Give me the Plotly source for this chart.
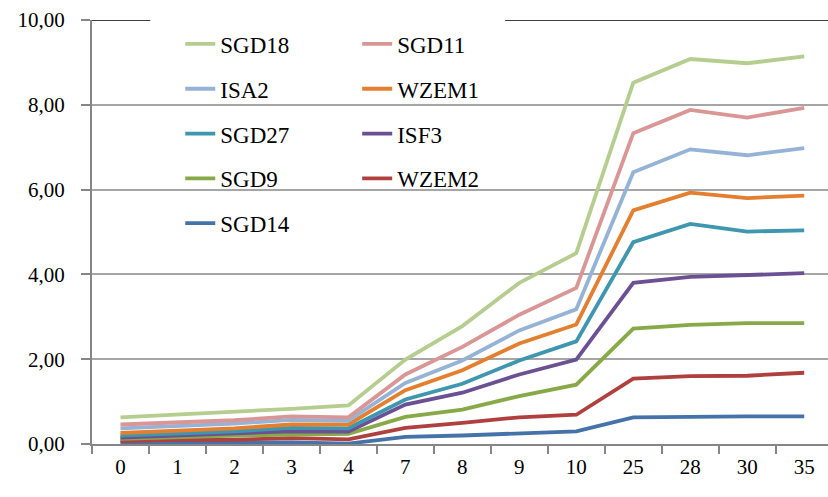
import plotly.graph_objects as go

# Sampling times (categorical x axis)
categories = ["0", "1", "2", "3", "4", "7", "8", "9", "10", "25", "28", "30", "35"]

sgd18 = [0.63, 0.69, 0.75, 0.83, 0.91, 1.99, 2.78, 3.80, 4.50, 8.52, 9.08, 8.98, 9.14]
sgd11 = [0.46, 0.50, 0.56, 0.65, 0.63, 1.64, 2.29, 3.05, 3.68, 7.33, 7.88, 7.70, 7.93]
isa2 = [0.37, 0.42, 0.48, 0.57, 0.55, 1.44, 1.97, 2.68, 3.18, 6.41, 6.95, 6.81, 6.98]
wzem1 = [0.26, 0.31, 0.37, 0.46, 0.46, 1.27, 1.74, 2.37, 2.82, 5.51, 5.93, 5.80, 5.86]
sgd27 = [0.20, 0.25, 0.30, 0.38, 0.37, 1.05, 1.42, 1.97, 2.42, 4.76, 5.19, 5.01, 5.04]
isf3 = [0.15, 0.20, 0.24, 0.30, 0.29, 0.93, 1.21, 1.64, 1.99, 3.80, 3.94, 3.99, 4.03]
sgd9 = [0.12, 0.17, 0.20, 0.22, 0.24, 0.64, 0.81, 1.13, 1.40, 2.72, 2.81, 2.85, 2.85]
wzem2 = [0.07, 0.10, 0.10, 0.14, 0.11, 0.38, 0.50, 0.63, 0.69, 1.54, 1.60, 1.61, 1.68]
sgd14 = [0.03, 0.03, 0.03, 0.04, 0.01, 0.17, 0.20, 0.26, 0.30, 0.63, 0.65, 0.65, 0.65]

yticks = [0, 2, 4, 6, 8, 10]

# (name, values, colour, legend column)
series = [
    ("SGD14", sgd14, "#4672AA", "legend"),
    ("WZEM2", wzem2, "#AF403E", "legend2"),
    ("SGD9", sgd9, "#88A948", "legend"),
    ("ISF3", isf3, "#6B5094", "legend2"),
    ("SGD27", sgd27, "#3E97AE", "legend"),
    ("WZEM1", wzem1, "#E37F2F", "legend2"),
    ("ISA2", isa2, "#95B3D7", "legend"),
    ("SGD11", sgd11, "#D99694", "legend2"),
    ("SGD18", sgd18, "#B5CD8F", "legend"),
]
legend_rank = {"SGD18": 0, "SGD11": 0, "ISA2": 1, "WZEM1": 1,
               "SGD27": 2, "ISF3": 2, "SGD9": 3, "WZEM2": 3, "SGD14": 4}

FONT = "Liberation Serif"
TICK_SIZE = 21
LEG_SIZE = 23
ROW = 44.8  # legend row pitch in px

fig = go.Figure()
for name, vals, color, leg in series:
    fig.add_trace(go.Scatter(
        x=categories, y=vals, name=name, mode="lines",
        line=dict(color=color, width=3.8),
        legend=leg, legendgroup=name, legendrank=legend_rank[name],
    ))

# plot area geometry (px)
W, H = 828, 497
left, top, bottom = 91.7, 20, 52.5
plot_w = W - left
plot_h = H - top - bottom
cat_w = 57.0
x_hi = -0.5 + plot_w / cat_w

def px_to_paper_x(px):
    return (px - left) / plot_w

def px_to_paper_y(py):
    return 1 - (py - top) / plot_h

# black border along the top of the value axis, interrupted by the legend
for x0, x1 in [(0, px_to_paper_x(150)), (px_to_paper_x(505), 1)]:
    fig.add_shape(type="line", xref="paper", yref="y", x0=x0, x1=x1, y0=10, y1=10,
                  line=dict(color="black", width=1.5), layer="below")

legend_common = dict(
    orientation="v", bgcolor="rgba(0,0,0,0)", borderwidth=0,
    font=dict(family=FONT, size=LEG_SIZE, color="black"),
    traceorder="grouped", tracegroupgap=ROW - (LEG_SIZE * 1.3 + 3),
    yanchor="top", xanchor="left", y=px_to_paper_y(22.5),
)

fig.update_layout(
    width=W, height=H,
    margin=dict(l=left, r=0, t=top, b=bottom, pad=0),
    paper_bgcolor="white", plot_bgcolor="white",
    separators=", ",
    font=dict(family=FONT, size=TICK_SIZE, color="black"),
    showlegend=True,
    legend=dict(x=px_to_paper_x(180), **legend_common),
    legend2=dict(x=px_to_paper_x(357), **legend_common),
    xaxis=dict(
        type="category", range=[-0.5, x_hi],
        showline=True, linecolor="#868686", linewidth=2,
        ticks="outside", tickson="boundaries", ticklen=8, tickcolor="#868686", tickwidth=1.5,
        ticklabelstandoff=3,
        showgrid=False, tickfont=dict(family=FONT, size=TICK_SIZE, color="black"),
    ),
    yaxis=dict(
        range=[0, 10], tickvals=yticks, tickformat=".2f",
        showline=True, linecolor="#868686", linewidth=2,
        ticks="outside", ticklen=9, tickcolor="#868686", tickwidth=1.5,
        ticklabelstandoff=12,
        showgrid=True, gridcolor="#A6A6A6", gridwidth=1.5,
        zeroline=False, tickfont=dict(family=FONT, size=TICK_SIZE, color="black"),
    ),
)

fig.write_html("out.html")
